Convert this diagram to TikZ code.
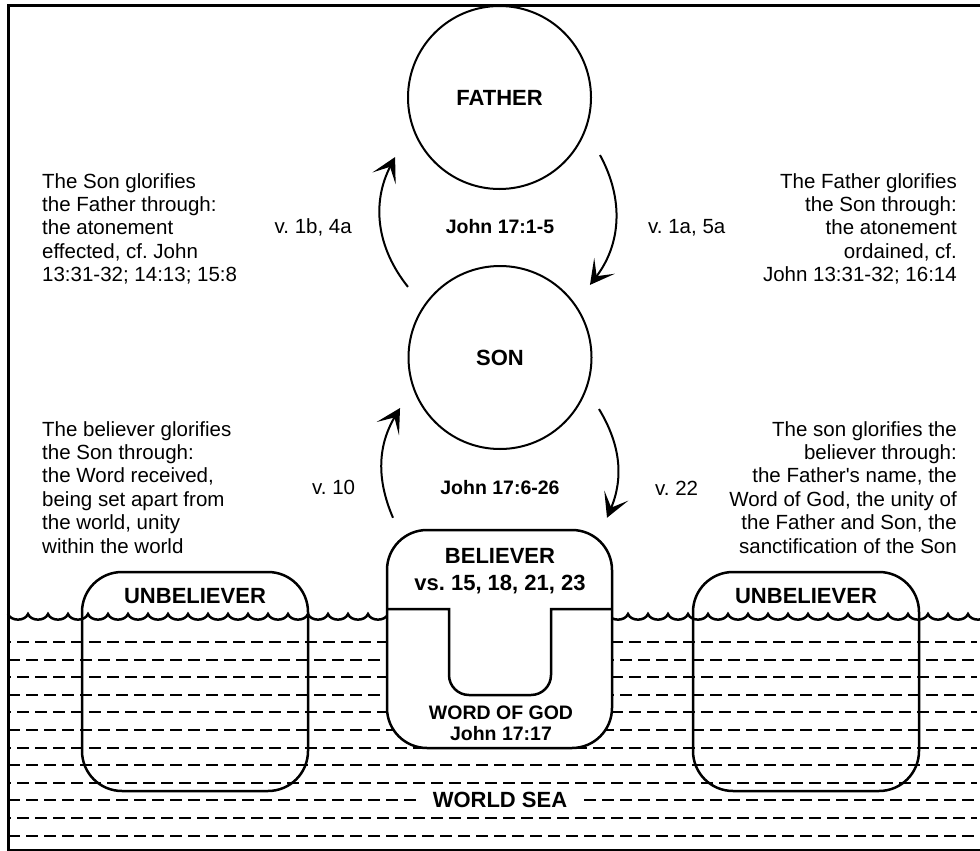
\documentclass[tikz,border=0pt]{standalone}
\usepackage{fontspec}
\setmainfont{Liberation Sans}
\usetikzlibrary{calc, arrows.meta}
\frenchspacing

\newcommand{\notetext}{\fontsize{20.5}{23.4}\selectfont}
\newcommand{\biglabel}{\fontsize{22}{27}\selectfont\bfseries}
\newcommand{\smalllabel}{\fontsize{19.5}{21}\selectfont\bfseries}

\tikzset{
  person/.style={circle, draw, line width=2pt, minimum size=183pt, inner sep=0pt, font=\biglabel},
  glory/.style={line width=2pt, -{Stealth[length=24pt, width=26pt, inset=13pt]}},
  note/.style={font=\notetext, inner sep=0pt},
  holder/.style={draw, line width=2.5pt, rounded corners=40pt, inner sep=0pt},
  searow/.style={line width=2pt, dash pattern=on 12pt off 6pt},
}

\begin{document}
\begin{tikzpicture}[x=1pt, y=1pt]
    \useasboundingbox (0,0) rectangle (980,-851);

    % Rows of the world sea
    \foreach \k in {0,...,11} {
        \pgfmathsetmacro{\rowy}{642+17.6*\k}
        \pgfmathsetmacro{\rowphase}{mod(\k,2)==1 ? 0 : 9}
        \draw[searow, dash phase=\rowphase pt] (8,-\rowy) -- (977,-\rowy);
    }
    \node[font=\biglabel, fill=white, inner xsep=12pt, inner ysep=3pt] (sea) at (500,-800) {WORLD SEA};

    % Surface of the sea
    \draw[line width=2.5pt] (8,-614)
        \foreach \i in {1,...,49} { .. controls +(3,-7.5) and +(-3,-7.5) .. ++(20,0) };

    % Unbelievers standing in the sea
    \node[holder, minimum width=226pt, minimum height=219pt] (unbelL) at (195,-681.5) {};
    \node[holder, minimum width=226pt, minimum height=219pt] (unbelR) at (806,-681.5) {};
    \node[font=\biglabel] at ([yshift=-25pt]unbelL.north) {UNBELIEVER};
    \node[font=\biglabel] at ([yshift=-25pt]unbelR.north) {UNBELIEVER};

    % Believer resting on the Word
    \node[holder, fill=white, minimum width=225pt, minimum height=218pt] (believer) at (499.5,-639) {};
    \draw[line width=2.5pt] (387,-609) -- (449,-609) -- (449,-675)
        arc[start angle=180, end angle=270, radius=20] -- (531,-695)
        arc[start angle=270, end angle=360, radius=20] -- (551,-609) -- (612,-609);
    \node[font=\biglabel, align=center] at (500,-571) {BELIEVER\\vs. 15, 18, 21, 23};
    \node[font=\smalllabel, align=center] at (501,-723) {WORD OF GOD\\John 17:17};

    % Father and Son
    \node[person] (father) at (499.5,-97.5) {FATHER};
    \node[person] (son) at (500,-357.5) {SON};
    \node[font=\smalllabel] (upperref) at (500,-227) {John 17:1-5};
    \node[font=\smalllabel] (lowerref) at (500,-488) {John 17:6-26};

    % End points of the glory arcs
    \coordinate (sonUL) at ($(son.center)+(142.5:116)$);
    \coordinate (sonUR) at ($(son.center)+(38.9:115.6)$);
    \coordinate (sonLL) at ($(son.center)+(206.8:112)$);
    \coordinate (sonLR) at ($(son.center)+(-27.5:111.6)$);
    \coordinate (fatherL) at ($(father.center)+(209.7:120.2)$);
    \coordinate (fatherR) at ($(father.center)+(-29.8:115.8)$);
    \coordinate (believerL) at ($(believer.north)+(-106.5,11)$);
    \coordinate (believerR) at ($(believer.north)+(107.5,11)$);

    \draw[glory] (sonUL) to[bend left=33] (fatherL);
    \draw[glory] (fatherR) to[bend left=33] (sonUR);
    \draw[glory] (believerL) to[bend left=27] (sonLL);
    \draw[glory] (sonLR) to[bend left=27] (believerR);

    % Verse labels
    \node[note, anchor=base east] at (352,-233) {v. 1b, 4a};
    \node[note, anchor=base west] at (648,-233) {v. 1a, 5a};
    \node[note, anchor=base west] at (312,-494) {v. 10};
    \node[note, anchor=base west] at (655,-495) {v. 22};

    % Notes at the sides
    \node[note, anchor=north west, align=left] (noteUL) at (42,-173)
        {The Son glorifies\\the Father through:\\the atonement\\effected, cf. John\\13:31-32; 14:13; 15:8};
    \node[note, anchor=north east, align=right] (noteUR) at (957,-173)
        {The Father glorifies\\the Son through:\\the atonement\\ordained, cf.\\John 13:31-32; 16:14};
    \node[note, anchor=north west, align=left] (noteLL) at (42,-421)
        {The believer glorifies\\the Son through:\\the Word received,\\being set apart from\\the world, unity\\within the world};
    \node[note, anchor=north east, align=right] (noteLR) at (957,-421)
        {The son glorifies the\\believer through:\\the Father\textquotesingle s name, the\\Word of God, the unity of\\the Father and Son, the\\sanctification of the Son};

    % Frame, open at the right
    \draw[line width=3pt] (990,-6) -- (8,-6) -- (8,-850) -- (990,-850);
\end{tikzpicture}
\end{document}
